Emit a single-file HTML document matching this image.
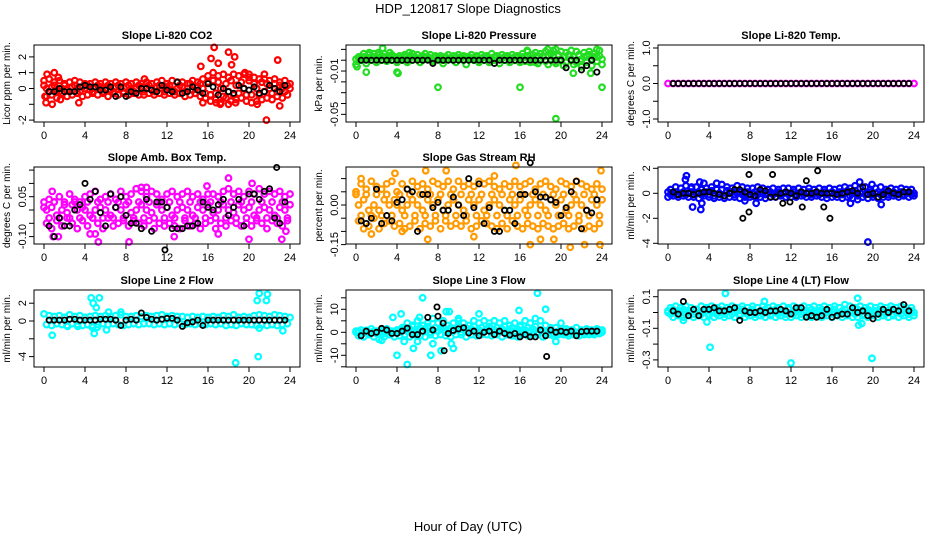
<!DOCTYPE html>
<html><head><meta charset="utf-8">
<style>
html,body{margin:0;padding:0;background:#fff;}
svg{display:block;font-family:"Liberation Sans",sans-serif;}
</style></head>
<body>
<svg id="chart" width="936" height="540" viewBox="0 0 936 540">
<text x="468" y="13" text-anchor="middle" font-size="13">HDP_120817  Slope Diagnostics</text>
<text x="468" y="531" text-anchor="middle" font-size="13">Hour of Day (UTC)</text>
</svg>
<script>
// ---- data (hour of day on x; colored series evenly spaced 0..24, black series from 0.5 step 0.5) ----
const xTicks = [0,4,8,12,16,20,24];
const panelTitles = ["Slope Li-820 CO2","Slope Li-820 Pressure","Slope Li-820 Temp.","Slope Amb. Box Temp.","Slope Gas Stream RH","Slope Sample Flow","Slope Line 2 Flow","Slope Line 3 Flow","Slope Line 4 (LT) Flow"];
const yTitles = ["Licor ppm per min.","kPa per min.","degrees C per min.","degrees C per min.","percent per min.","ml/min per min.","ml/min per min.","ml/min per min.","ml/min per min."];
const yTickVals = [[2,1,0,-1,-2],[0.01,0,-0.01,-0.02,-0.03,-0.04,-0.05],[1,0.5,0,-0.5,-1],[0.15,0.1,0.05,0,-0.05,-0.1],[0.1,0.05,0,-0.05,-0.1,-0.15],[2,0,-2,-4],[2,0,-2,-4],[15,10,5,0,-5,-10,-15],[0.1,0,-0.1,-0.2,-0.3]];
const yTickLabels = [["2","1","0","","-2"],["","","-0.01","","","","-0.05"],["1.0","","0.0","","-1.0"],["","","0.05","","","-0.10"],["","","0.00","","","-0.15"],["2","0","-2","-4"],["2","0","","-4"],["","10","","0","","-10",""],["0.1","","-0.1","","-0.3"]];

const co2Band = [0.5,-0.5,0.6,-0.4,0.4,-0.6,0.5,-0.3,0.3,-0.5,0.4,-0.4,0.5,-0.3,0.4,-0.5,0.3,
-0.4,0.3,-0.3,0.4,-0.4,0.3,-0.3,0.4,-0.5,0.3,-0.3,0.4,-0.4,0.3,-0.3,0.4,
-0.4,0.3,-0.3,0.4,-0.4,0.3,-0.4,0.4,-0.3,0.3,-0.4,0.4,-0.3,0.5,-0.4,0.3,
-0.3,0.5,-0.4,0.4,-0.3,0.4,-0.5,0.3,-0.4,0.5,-0.3,0.4,-0.5,0.6,-0.6,0.8,
-0.8,1.0,-0.7,0.8,-0.9,0.9,-0.6,0.7,-0.8,0.9,-0.7,0.8,-0.6,0.9,-0.8,0.7,
-0.9,0.7,-0.8,0.6,-0.7,0.6,-0.6,0.5,-0.7,0.6,-0.5,0.4,-0.6,0.5,-0.4,0.3];
const co2Mid = [0.2,0,-0.2,0.1,0.2,-0.1,-0.2,0,0.2,-0.1,-0.2,0.1,0.2,0,-0.2,0.1,0,
0.2,-0.1,-0.2,0,0.2,0.1,-0.2,0,0.2,-0.1,-0.2,0.1,0.2,0,-0.2,0.1,
0.2,-0.1,-0.2,0,0.2,0.1,-0.2,0,0.2,-0.1,-0.2,0.1,0.2,0,-0.2,0.1,
0.2,-0.1,-0.2,0,0.2,0.1,-0.2,0,0.3,-0.1,-0.3,0.1,0.3,0,-0.3,0.4,
-0.4,0.5,-0.3,0.4,0,-0.5,0.3,-0.2,0.5,-0.4,0.2,-0.3,0.4,0,-0.4,0.5,
-0.4,0.3,0,-0.4,0.4,-0.2,0.3,0,-0.3,0.3,-0.2,0.2,0,-0.2,0.2,0];
const co2Outliers = [[0.1,-0.5],[0.2,-0.9],[0.3,0.9],[0.8,-1.0],[1.0,1.0],[1.4,0.7],[1.6,-0.7],[3.4,-0.9],[9.8,0.6],[15.3,1.4],[15.5,-0.9],[16.3,1.9],[16.6,2.6],[16.8,-0.9],[17.0,1.6],[17.2,-1.0],[18.0,2.3],[18.3,1.5],[18.6,2.0],[18.0,-1.0],[18.7,-0.9],[21.7,-2.0],[22.8,1.8],[23.0,-1.1],[20.8,-1.0],[21.5,0.9],[19.6,1.0],[20.0,0.9]];
const co2Black = [-0.2,-0.2,0,-0.2,-0.2,-0.2,0.1,0.2,0.1,0.1,-0.1,-0.1,0.1,-0.5,0.1,-0.5,-0.2,-0.3,0,0,-0.1,-0.2,0.2,-0.1,-0.2,0.4,-0.3,-0.2,0.1,-0.1,-0.3,0.3,0.1,-0.4,0,-0.2,-0.3,0.2,0,-0.1,0.1,-0.3,-0.2,0.2,0,-0.2,0.2];

const presBand = [-0.004,0.003,0.002,0.006,-0.003,0.005,0.003,0.006,-0.002,0.005,0.004,0.006,-0.001,0.004,0.005,0.003,-0.002,
0.004,0.002,0.005,-0.002,0.004,0.006,0.003,0.005,-0.002,0.004,0.006,0.003,0.005,-0.001,0.004,0.003,
0.004,-0.003,0.003,0.005,0.002,0.004,-0.002,0.005,0.003,0.004,-0.004,0.003,0.005,0.002,0.004,-0.002,
0.005,0.003,0.004,-0.002,0.006,0.003,0.004,-0.003,0.005,0.003,0.004,-0.002,0.005,0.003,0.004,-0.002,
0.006,0.003,0.008,-0.002,0.005,0.007,-0.003,0.006,0.004,0.008,-0.004,0.006,0.009,-0.003,0.005,0.008,
-0.005,0.007,0.004,0.009,-0.004,0.008,0.005,-0.006,0.007,0.004,0.008,-0.005,0.006,0.003,0.009,-0.004];
const presMid = [0.001,0.002,0,0.003,0.001,0.002,0,0.003,0.001,0.002,0,0.003,0.001,0.002,0,0.003,0.001,
0.002,0,0.003,0.001,0.002,0,0.003,0.001,0.002,0,0.003,0.001,0.002,0,0.003,0.001,
0.002,0,0.003,0.001,0.002,0,0.003,0.001,0.002,0,0.003,0.001,0.002,0,0.003,0.001,
0.002,0,0.003,0.001,0.002,0,0.003,0.001,0.002,0,0.003,0.001,0.002,0,0.003,0.001,
0.003,-0.001,0.004,0.001,0.002,-0.002,0.004,0.001,0.003,-0.001,0.004,0.001,0.003,-0.002,0.004,0.001,
0.003,-0.002,0.005,0.001,0.003,-0.002,0.004,0.001,0.003,-0.002,0.005,0.001,0.003,-0.001,0.004,0.001];
const presOutliers = [[0.1,-0.006],[1.0,-0.011],[2.6,0.011],[4.0,-0.011],[4.1,-0.012],[8.0,-0.025],[16.0,-0.025],[19.5,-0.054],[24,-0.025],[19.5,0.010],[18.7,0.010],[21.2,-0.012],[22.9,-0.012],[23.5,0.010],[16.7,0.009],[5.2,0.007],[3.3,0.007],[1.3,0.007],[2.2,0.007]];
const presBlack = [0,0,0,0,0,0,0,0,0,0,0,0,0,0,-0.003,0,0,0,0,0,0,0,0,0,0,0,-0.003,0,0,0,0,0,0,0,0,0,0,0,0,0,-0.007,0,0,-0.009,-0.005,0,-0.011];

const tempBand = [0,0,0,0,0,0,0,0,0,0,0,0,0,0,0,0,0,0,0,0,0,0,0,0,0,0,0,0,0,0,0,0,0,0,0,0,0,0,0,0,0,0,0,0,0,0,0,0,0];
const tempMid = [];
const tempOutliers = [];
const tempBlack = [0,0,0,0,0,0,0,0,0,0,0,0,0,0,0,0,0,0,0,0,0,0,0,0,0,0,0,0,0,0,0,0,0,0,0,0,0,0,0,0,0,0,0,0,0,0,0];

const boxBand = [0.01,-0.05,0.04,-0.07,0.03,-0.04,0.05,-0.06,0.02,-0.03,0.06,-0.05,0.04,-0.07,0.03,-0.04,0.05,
-0.06,0.06,-0.03,0.07,-0.05,0.04,-0.07,0.05,-0.03,0.06,-0.06,0.04,-0.05,0.07,-0.04,0.05,
-0.06,0.06,-0.04,0.08,-0.05,0.07,-0.06,0.05,-0.04,0.07,-0.07,0.06,-0.05,0.04,-0.06,0.06,
-0.05,0.07,-0.06,0.05,-0.07,0.06,-0.04,0.07,-0.06,0.05,-0.05,0.06,-0.07,0.04,-0.05,0.06,
-0.04,0.06,-0.07,0.05,-0.05,0.07,-0.06,0.08,-0.04,0.06,-0.05,0.07,-0.06,0.05,-0.05,0.07,
-0.06,0.06,-0.04,0.08,-0.05,0.06,-0.07,0.07,-0.04,0.06,-0.05,0.07,-0.06,0.05,-0.04,0.06];
const boxMid = [0.03,0,-0.03,0.01,0.03,-0.02,-0.03,0,0.03,-0.01,-0.03,0.02,0.03,0,-0.03,0.01,0,
0.03,-0.02,-0.03,0,0.03,0.01,-0.03,0,0.03,-0.02,-0.03,0.01,0.03,0,-0.03,0.02,
0.03,-0.01,-0.03,0,0.03,0.02,-0.03,0,0.03,-0.01,-0.03,0.02,0.03,0,-0.03,0.01,
0.03,-0.02,-0.03,0,0.03,0.01,-0.03,0,0.03,-0.02,-0.03,0.01,0.03,0,-0.03,0.02,
0.03,-0.01,-0.03,0,0.03,0.02,-0.03,0,0.03,-0.01,-0.03,0.02,0.03,0,-0.03,0.01,
0.03,-0.02,-0.03,0,0.03,0.01,-0.03,0,0.03,-0.02,-0.03,0.01,0.03,0,-0.03,0.02];
const boxOutliers = [[0.9,-0.1],[1.4,-0.1],[0.8,0.07],[5.3,-0.12],[8.3,-0.12],[20.0,-0.11],[23.2,-0.11],[18.0,0.12],[20.3,0.1],[15.9,0.09],[23.6,-0.08],[12.7,-0.1],[9.5,0.085],[10.0,0.085],[4.5,-0.09],[5.0,-0.09],[17.0,-0.09]];
const boxBlack = [-0.06,-0.1,-0.03,-0.06,-0.06,0.0,0.02,0.1,0.04,0.07,-0.01,-0.06,0.06,0.01,0.05,-0.02,-0.05,-0.05,-0.07,0.04,-0.08,0.03,0.03,0.01,-0.07,-0.07,-0.07,-0.06,-0.06,-0.05,0.03,0.01,0.0,0.02,0.04,-0.02,0.01,0.04,-0.06,0.06,0.06,0.04,0.07,0.08,-0.03,-0.05,0.03];
const boxBlackOutliers = [[22.7,0.16],[11.8,-0.15]];

const rhBand = [0.05,-0.06,0.08,-0.09,0.06,-0.08,0.09,-0.05,0.07,-0.09,0.06,-0.07,0.08,-0.06,0.09,-0.08,0.05,
-0.07,0.08,-0.09,0.06,-0.08,0.09,-0.06,0.07,-0.09,0.08,-0.07,0.06,-0.08,0.09,-0.06,0.08,
-0.09,0.07,-0.06,0.09,-0.08,0.06,-0.07,0.09,-0.08,0.07,-0.06,0.08,-0.09,0.07,-0.08,0.09,
-0.06,0.08,-0.07,0.09,-0.08,0.07,-0.09,0.06,-0.07,0.08,-0.09,0.07,-0.06,0.09,-0.08,0.07,
-0.09,0.08,-0.07,0.09,-0.08,0.06,-0.09,0.08,-0.07,0.09,-0.08,0.07,-0.09,0.06,-0.08,0.09,
-0.07,0.08,-0.09,0.07,-0.08,0.09,-0.06,0.08,-0.09,0.07,-0.08,0.06,-0.09,0.08,-0.07,0.06];
const rhMid = [0.04,0,-0.04,0.02,0.04,-0.02,-0.04,0,0.04,-0.02,-0.04,0.02,0.04,0,-0.04,0.02,0,
0.04,-0.02,-0.04,0,0.04,0.02,-0.04,0,0.04,-0.02,-0.04,0.02,0.04,0,-0.04,0.02,
0.04,-0.02,-0.04,0,0.04,0.02,-0.04,0,0.04,-0.02,-0.04,0.02,0.04,0,-0.04,0.02,
0.04,-0.02,-0.04,0,0.04,0.02,-0.04,0,0.04,-0.02,-0.04,0.02,0.04,0,-0.04,0.02,
0.04,-0.02,-0.04,0,0.04,0.02,-0.04,0,0.04,-0.02,-0.04,0.02,0.04,0,-0.04,0.02,
0.04,-0.02,-0.04,0,0.04,0.02,-0.04,0,0.04,-0.02,-0.04,0.02,0.04,0,-0.04,0.02];
const rhOutliers = [[0.5,0.1],[3.8,0.12],[6.8,0.13],[8.8,0.13],[15.6,0.15],[17.0,-0.15],[18.0,-0.13],[19.3,-0.13],[20.9,-0.16],[22.3,-0.15],[23.9,0.13],[23.8,-0.15],[11.5,-0.12],[7.0,-0.13],[1.5,-0.11],[4.5,-0.1],[13.5,0.11]];
const rhBlack = [-0.06,-0.07,-0.05,0.06,-0.07,-0.04,-0.06,0.01,0.02,0.06,0.05,-0.1,0.04,0.04,-0.01,0.01,-0.02,-0.02,0.03,0.0,-0.04,0.1,-0.01,0.08,-0.07,-0.01,-0.1,-0.1,-0.02,-0.02,-0.07,0.04,0.04,0.16,0.05,0.03,0.03,0.02,0.01,-0.04,-0.01,0.05,0.09,-0.09,-0.02,-0.03,0.02];
const rhBlackOutliers = [];

const sampleBand = [-0.3,0.3,-0.2,0.5,-0.3,0.4,-0.2,0.6,-0.3,0.4,-0.3,0.5,-0.4,0.3,-0.2,0.4,-0.3,
0.5,-0.4,0.8,-0.3,0.7,-0.4,0.5,-0.3,0.4,-0.3,0.6,-0.4,0.5,-0.3,0.4,-0.3,
0.4,-0.3,0.5,-0.3,0.4,-0.4,0.3,-0.3,0.4,-0.3,0.3,-0.2,0.4,-0.3,0.4,-0.3,
0.3,-0.3,0.4,-0.2,0.3,-0.3,0.4,-0.3,0.3,-0.2,0.4,-0.3,0.3,-0.4,0.4,-0.3,
0.3,-0.3,0.4,-0.4,0.5,-0.3,0.4,-0.4,0.6,-0.5,0.4,-0.3,0.5,-0.4,0.3,-0.3,
0.4,-0.4,0.5,-0.3,0.3,-0.3,0.4,-0.2,0.3,-0.3,0.4,-0.2,0.3,-0.3,0.3,-0.2];
const sampleMid = [0.1,-0.1,0,0.1,-0.1,0,0.1,-0.1,0,0.1,-0.1,0,0.1,-0.1,0,0.1,-0.1,
0.2,-0.2,0.3,0,0.3,-0.2,0.2,0,0.1,-0.1,0,0.1,-0.1,0,0.1,-0.1,
0,0.1,-0.1,0,0.1,-0.1,0,0.1,-0.1,0,0.1,-0.1,0,0.1,-0.1,0,
0.1,-0.1,0,0.1,-0.1,0,0.1,-0.1,0,0.1,-0.1,0,0.1,-0.1,0,0.1,
-0.1,0,0.1,-0.1,0,0.2,-0.2,0,0.2,-0.2,0,0.1,-0.1,0,0.1,-0.1,
0,0.1,-0.1,0,0.1,-0.1,0,0.1,-0.1,0,0.1,-0.1,0,0.1,-0.1,0];
const sampleOutliers = [[1.8,1.4],[1.7,1.1],[2.3,0.5],[2.4,-1.1],[3.2,-1.3],[3.3,-0.8],[3.1,0.9],[3.5,0.8],[19.5,-3.9],[18.7,0.9],[19.9,0.7],[17.8,-0.8],[20.8,-0.9],[8.6,-0.8],[7.5,-0.6]];
const sampleBlack = [0.1,-0.1,0,0,-0.1,0,0.1,0.1,0,-0.1,-0.2,0,0.3,0.3,0.1,-0.1,-0.2,0.3,0.2,-0.3,-0.3,0,0.1,0,-0.2,0.1,0,0,0.1,0,0,0,-0.1,0,0.1,0.2,0,0.5,-0.1,0,-0.3,-0.1,0.2,0,-0.1,0.1,0.1];
const sampleBlackOutliers = [[7.3,-2],[7.9,-1.5],[7.9,1.5],[10.2,1.5],[13.5,1.0],[14.6,1.8],[15.2,-1.1],[15.8,-2],[13.1,-1.1],[11.9,-0.7],[11.2,-0.8]];

const line2Band = [0.8,-0.4,0.6,-0.5,0.5,-0.3,0.6,-0.4,0.4,-0.5,0.7,-0.3,0.5,-0.4,0.6,-0.5,0.4,
-0.4,0.5,-0.5,0.6,-0.4,0.5,-0.3,0.6,-0.4,0.5,-0.3,0.6,-0.4,0.7,-0.5,0.5,
-0.4,0.5,-0.3,0.6,-0.4,0.5,-0.3,0.6,-0.3,0.5,-0.4,0.6,-0.3,0.7,-0.4,0.5,
-0.3,0.6,-0.4,0.5,-0.3,0.5,-0.4,0.4,-0.3,0.5,-0.4,0.4,-0.3,0.5,-0.4,0.4,
-0.3,0.5,-0.4,0.4,-0.3,0.6,-0.5,0.5,-0.4,0.7,-0.5,0.4,-0.3,0.5,-0.4,0.4,
-0.4,0.6,-0.5,0.7,-0.4,0.6,-0.5,0.5,-0.4,0.7,-0.5,0.6,-0.4,0.5,-0.3,0.4];
const line2Mid = [];
const line2Outliers = [[0.8,-1.6],[4.6,2.6],[4.8,2.0],[5.1,1.5],[5.4,2.6],[4.9,-1.4],[5.2,-0.7],[6.1,-1.0],[6.3,1.0],[18.7,-4.7],[20.9,-4.0],[21.0,3.1],[20.8,2.3],[21.7,2.3],[21.8,3.0],[21.0,-0.8],[23.3,-1.1],[2.3,-0.6],[3.3,-0.6],[4.7,-0.7],[7.5,1.0]];
const line2Black = [0.1,0.1,0.1,0.1,0.2,0.2,0.1,0.1,0.1,0.1,0.2,0.2,0.2,0.1,-0.5,0.1,0.2,0.1,0.9,0.4,0.2,0.1,0.2,0.3,0.3,0.1,-0.6,-0.2,-0.1,0.1,-0.5,0.1,0.1,0.1,0.1,0.1,0.1,0.1,0.1,0.1,0.1,0.1,0.1,0.1,0.1,0.1,0.1];
const line2BlackOutliers = [];

const line3Band = [0.5,-1.5,1,-2,0.8,-1,1.5,-2,0.5,-3,1,-2,1.5,-1,0.5,-2,1,
-1.5,2,-1,4,-2,3,-1,5,-1.5,3,-2,4,-1,6,-1.5,4,
-1,5,-1.5,3,-2,4,-1,5,-1,4,-2,3,-1,5,-1.5,4,
-1,5,-1,4,-1.5,5,-1,4,-2,5,-1,3,-1.5,4,-2,3,
-1,5,-1.5,4,-1,6,-1,5,-2,3,-1,2,-1.5,2,-1,1.5,
-1,1.5,-1.5,1,-1,2,-1.5,1,-1,1.5,-1,1,-1,1.5,-0.5,1];
const line3Mid = [0,0.5,-0.5,0,0.5,-0.5,0,0.5,-0.5,0,0.5,-0.5,0,0.5,-0.5,0,0.5,
0,1,2,0.5,1.5,2.5,0,1,2,0.5,1.5,2.5,0,1,2,0.5,
1.5,2.5,0,1,2,0.5,1.5,2.5,0,1,2,0.5,1.5,2.5,0,1,
2,0.5,1.5,2.5,0,1,2,0.5,1.5,2.5,0,1,2,0.5,1.5,2.5,
0,1,2,0.5,1.5,2.5,0,1,0.5,-0.5,0,0.5,-0.5,0,0.5,-0.5,
0,0.5,-0.5,0,0.5,-0.5,0,0.5,-0.5,0,0.5,-0.5,0,0.5,-0.5,0];
const line3Outliers = [[3.6,6.5],[4.4,8],[4.0,-10],[5.0,-14],[6.5,15],[7.3,-10],[7.5,-5],[8.3,-8],[8.8,9],[9.1,9],[9.3,-5],[9.5,-7],[6.2,6.5],[6.0,-4],[5.6,-7],[17.7,17],[18.5,10],[15.9,9.5],[12.0,8],[19.5,-4],[20.0,4],[2.5,-3.5],[4.7,-4],[10.0,6]];
const line3Black = [-1.5,0.5,-0.5,0,1.7,1,-0.5,-0.5,0.5,1.8,-1,-1,0.5,6.5,1,7,4,-0.5,0.8,1.5,2,-0.3,0.5,-1.5,0,0.5,-1,0.5,-0.5,-1.2,-0.5,-2,-1,-2,-2,1,-1.5,1,0,0.5,0,0.5,-1.5,0.3,0.5,0.5,0.5];
const line3BlackOutliers = [[7.9,11],[8.6,-8],[18.6,-10.5]];

const line4Band = [0.0,0.03,-0.03,0.04,-0.02,0.03,-0.03,0.04,-0.02,0.03,-0.03,0.02,-0.02,0.04,-0.03,0.03,-0.02,
0.04,-0.03,0.03,-0.02,0.04,-0.03,0.03,-0.02,0.04,-0.03,0.03,-0.02,0.04,-0.03,0.03,-0.02,
0.04,-0.03,0.03,-0.02,0.04,-0.03,0.03,-0.02,0.04,-0.03,0.03,-0.02,0.04,-0.03,0.03,-0.03,
0.04,-0.02,0.03,-0.03,0.04,-0.02,0.03,-0.03,0.04,-0.02,0.03,-0.03,0.04,-0.02,0.03,-0.03,
0.04,-0.02,0.03,-0.03,0.05,-0.02,0.04,-0.03,0.03,-0.03,0.04,-0.02,0.03,-0.03,0.04,-0.02,
0.03,-0.03,0.04,-0.02,0.03,-0.03,0.04,-0.02,0.03,-0.03,0.04,-0.02,0.03,-0.03,0.03,-0.02];
const line4Mid = [0.01,-0.01,0.02,0,-0.01,0.01,0.02,-0.01,0,0.01,-0.01,0.02,0,-0.01,0.01,0.02,-0.01,
0,0.01,-0.01,0.02,0,-0.01,0.01,0.02,-0.01,0,0.01,-0.01,0.02,0,-0.01,0.01,
0.02,-0.01,0,0.01,-0.01,0.02,0,-0.01,0.01,0.02,-0.01,0,0.01,-0.01,0.02,0,
-0.01,0.01,0.02,-0.01,0,0.01,-0.01,0.02,0,-0.01,0.01,0.02,-0.01,0,0.01,-0.01,
0.02,0,-0.01,0.01,0.02,-0.01,0,0.01,-0.01,0.02,0,-0.01,0.01,0.02,-0.01,0,
0.01,-0.01,0.02,0,-0.01,0.01,0.02,-0.01,0,0.01,-0.01,0.02,0,-0.01,0.01,0];
const line4Outliers = [[5.6,0.12],[4.1,-0.22],[12.0,-0.32],[19.9,-0.29],[18.5,0.09],[9.4,0.07],[18.6,-0.08],[18.9,-0.07],[1.5,-0.05],[3.8,-0.06]];
const line4Black = [0.01,-0.01,0.07,-0.02,0.02,-0.02,0.02,0.02,0.03,0.01,0.01,0.02,0.03,-0.05,0.01,0.0,0.0,0.01,0.0,0.01,0.01,0.02,0.01,-0.01,0.03,0.03,-0.03,-0.02,-0.03,-0.02,0.02,-0.03,-0.02,-0.01,-0.01,0.03,0.0,0.01,-0.02,-0.04,-0.01,0.02,0.0,0.02,0.01,0.05,0.01];
const line4BlackOutliers = [];

const bands = [co2Band,presBand,tempBand,boxBand,rhBand,sampleBand,line2Band,line3Band,line4Band];
const mids = [co2Mid,presMid,tempMid,boxMid,rhMid,sampleMid,line2Mid,line3Mid,line4Mid];
const outliers = [co2Outliers,presOutliers,tempOutliers,boxOutliers,rhOutliers,sampleOutliers,line2Outliers,line3Outliers,line4Outliers];
const blacks = [co2Black,presBlack,tempBlack,boxBlack,rhBlack,sampleBlack,line2Black,line3Black,line4Black];
const blackOutliers = [[],[],[],boxBlackOutliers,rhBlackOutliers,sampleBlackOutliers,line2BlackOutliers,line3BlackOutliers,line4BlackOutliers];

// ---- layout (geometry, not data) ----
const colLeft=[34,346,658], rowTop=[45,167,290], boxW=266, boxH=77;
const zeroPx=[88.5,60.2,83.5,210,205,193.3,321,332.3,312.5];
const pxPerUnit=[15.8,1083,35.5,266,264,12.5,8.9,2.3,158];
const colors=["#ff0000","#22dd22","#ff00ff","#ff00ff","#ff9a00","#0000ff","#00ffff","#00ffff","#00ffff"];
const slugs=["co2","pressure","temp","amb-box-temp","gas-stream-rh","sample-flow","line2-flow","line3-flow","line4-flow"];

const NS="http://www.w3.org/2000/svg";
const svg=document.getElementById('chart');
function mk(tag,attrs,parent){const e=document.createElementNS(NS,tag);for(const k in attrs)e.setAttribute(k,attrs[k]);(parent||svg).appendChild(e);return e;}

for(let p=0;p<9;p++){
  const L=colLeft[p%3], T=rowTop[Math.floor(p/3)];
  const g=mk('g',{});
  
  
  const xs=h=>L+10+h*(boxW-20)/24;
  const ys=v=>zeroPx[p]-v*pxPerUnit[p];
  const t=mk('text',{x:L+boxW/2,y:T-6,'text-anchor':'middle','font-size':'11','font-weight':'bold'},g);
  t.textContent=panelTitles[p];
  
  
  const yt=mk('text',{transform:`translate(${L-24},${T+boxH/2}) rotate(-90)`,'text-anchor':'middle','font-size':'10'},g);
  yt.textContent=yTitles[p];
  
  
  xTicks.forEach(v=>{
    const x=xs(v);
    mk('line',{x1:x,x2:x,y1:T+boxH,y2:T+boxH+5,stroke:'#000'},g);
    const tl=mk('text',{x:x,y:T+boxH+17,'text-anchor':'middle','font-size':'11'},g);
    tl.textContent=v;
    
    
  });
  yTickVals[p].forEach((v,i)=>{
    const y=ys(v);
    mk('line',{x1:L-5,x2:L,y1:y,y2:y,stroke:'#000'},g);
    const lab=yTickLabels[p][i];
    if(lab){
      const tl=mk('text',{transform:`translate(${L-8},${y}) rotate(-90)`,'text-anchor':'middle','font-size':'11'},g);
      tl.textContent=lab;
      
      
    }
  });
  const sg=mk('g',{fill:'none',stroke:colors[p],'stroke-width':'2.2'},g);
  
  
  [bands[p],mids[p]].forEach(arr=>{
    if(!arr.length) return;
    const step=24/(arr.length-1);
    arr.forEach((v,i)=>{
      const c=mk('circle',{cx:xs(i*step),cy:ys(v),r:2.8},sg);
      
      
    });
  });
  outliers[p].forEach(d=>{
    const c=mk('circle',{cx:xs(d[0]),cy:ys(d[1]),r:2.8},sg);
    
    
  });
  const bg=mk('g',{fill:'none',stroke:'#000','stroke-width':'1.8'},g);
  
  
  blacks[p].forEach((v,i)=>{
    const c=mk('circle',{cx:xs(0.5+i*0.5),cy:ys(v),r:2.6},bg);
    
    
  });
  blackOutliers[p].forEach(d=>{
    const c=mk('circle',{cx:xs(d[0]),cy:ys(d[1]),r:2.6},bg);
    
    
  });
  const box=mk('rect',{x:L,y:T,width:boxW,height:boxH,fill:'none',stroke:'#000','stroke-width':'1'},g);
  
  
}
</script>
</body></html>
